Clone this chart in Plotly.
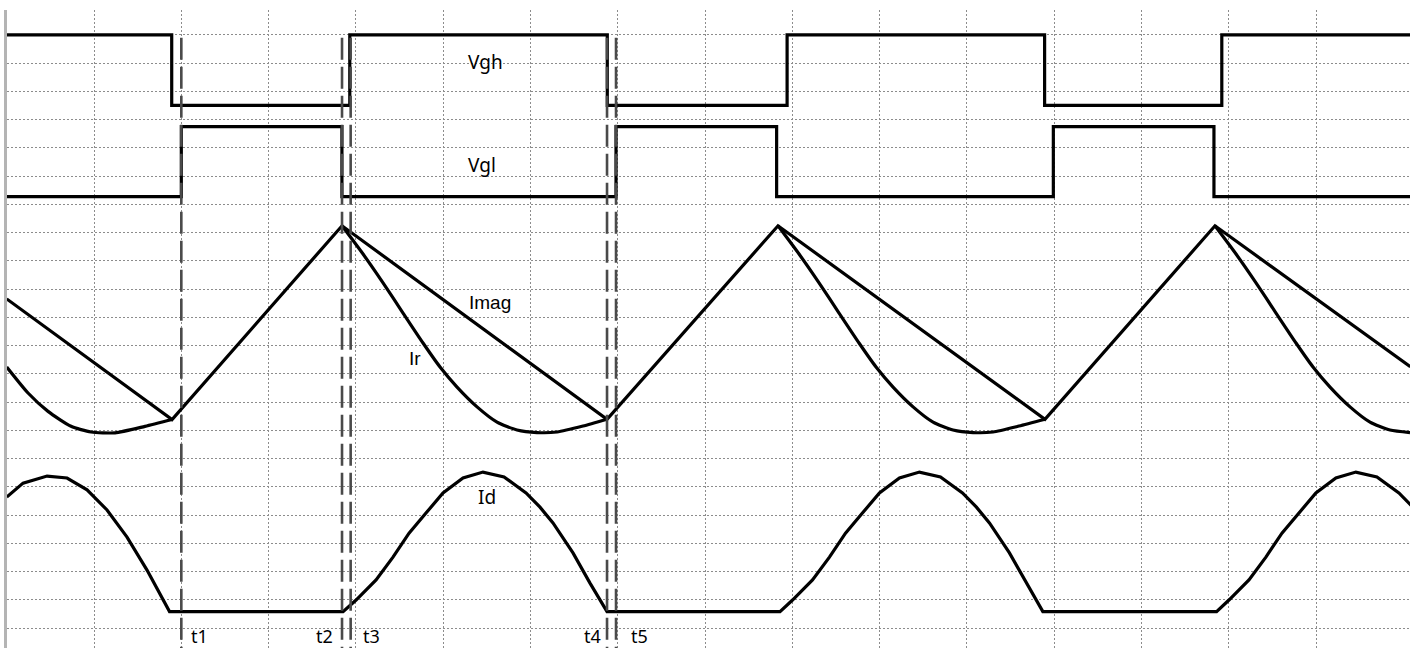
import plotly.graph_objects as go

# ---- data (time in grid divisions, amplitude in grid divisions) ----
vgh_t = [-1.0, 0.89, 2.93, 5.88, 7.94, 10.89, 12.92, 15.1]
vgh_v = [21.0, 18.5, 21.0, 18.5, 21.0, 18.5, 21.0, 21.0]

vgl_t = [-1.0, 1.0, 2.84, 5.98, 7.82, 10.99, 12.83, 15.1]
vgl_v = [15.27, 17.75, 15.27, 17.75, 15.27, 17.75, 15.27, 15.27]

imag_t = [-1.0, 0.894, 2.841, 5.877, 7.836, 10.894, 12.842, 15.08]
imag_v = [11.65, 7.38, 14.24, 7.39, 14.24, 7.39, 14.24, 9.25]

ir_t = [-1.0, -0.756, -0.527, -0.263, -0.034, 0.241, 0.584, 0.894, None,
        2.841, 3.082, 3.311, 3.540, 3.769, 3.964, 4.159, 4.388, 4.617, 4.846, 5.075, 5.304, 5.602, 5.877, None,
        7.836, 8.077, 8.306, 8.535, 8.764, 8.959, 9.154, 9.383, 9.612, 9.841, 10.070, 10.299, 10.597, 10.894, None,
        12.842, 13.083, 13.312, 13.541, 13.770, 13.965, 14.160, 14.389, 14.618, 14.847, 15.076]
ir_v = [9.24, 8.32, 7.67, 7.14, 6.94, 6.91, 7.14, 7.38, None,
        14.24, 13.24, 12.22, 11.15, 10.09, 9.24, 8.53, 7.83, 7.29, 7.01, 6.92, 6.94, 7.15, 7.39, None,
        14.24, 13.24, 12.22, 11.15, 10.09, 9.24, 8.53, 7.83, 7.29, 7.01, 6.92, 6.94, 7.15, 7.39, None,
        14.24, 13.24, 12.22, 11.15, 10.09, 9.24, 8.53, 7.83, 7.29, 7.01, 6.92]

id_t = [-1.0, -0.813, -0.538, -0.309, -0.080, 0.149, 0.378, 0.607, 0.865,
        2.853, 3.002, 3.231, 3.425, 3.609, 3.803, 3.998, 4.227, 4.456, 4.697, 4.949, 5.109, 5.258, 5.487, 5.682, 5.877,
        7.859, 8.002, 8.231, 8.425, 8.609, 8.803, 8.998, 9.227, 9.456, 9.697, 9.949, 10.109, 10.258, 10.487, 10.682, 10.870,
        12.860, 13.002, 13.231, 13.425, 13.609, 13.803, 13.998, 14.227, 14.456, 14.697, 14.949, 15.109]
id_v = [4.64, 5.13, 5.38, 5.31, 4.89, 4.18, 3.22, 2.05, 0.58,
        0.58, 0.99, 1.70, 2.51, 3.36, 4.07, 4.78, 5.31, 5.52, 5.35, 4.78, 4.28, 3.72, 2.66, 1.59, 0.58,
        0.58, 0.99, 1.70, 2.51, 3.36, 4.07, 4.78, 5.31, 5.52, 5.35, 4.78, 4.28, 3.72, 2.66, 1.59, 0.58,
        0.58, 0.99, 1.70, 2.51, 3.36, 4.07, 4.78, 5.31, 5.52, 5.35, 4.78, 4.28]

marker_names = ["t1", "t2", "t3", "t4", "t5"]
marker_times = [1.0, 2.841, 2.94, 5.877, 5.98]

signal_names = ["Vgh", "Vgl", "Imag", "Ir", "Id"]

# ---- layout constants ----
X_RANGE = [-0.997, 15.076]
Y_RANGE = [-0.708, 21.88]
LINE_W = 3.2

fig = go.Figure()

fig.add_trace(go.Scatter(x=vgh_t, y=vgh_v, mode="lines", line=dict(color="black", width=LINE_W, shape="hv")))
fig.add_trace(go.Scatter(x=vgl_t, y=vgl_v, mode="lines", line=dict(color="black", width=LINE_W, shape="hv")))
fig.add_trace(go.Scatter(x=imag_t, y=imag_v, mode="lines", line=dict(color="black", width=LINE_W)))
fig.add_trace(go.Scatter(x=ir_t, y=ir_v, mode="lines", connectgaps=False,
                         line=dict(color="black", width=LINE_W, shape="spline", smoothing=0.6)))
fig.add_trace(go.Scatter(x=id_t, y=id_v, mode="lines",
                         line=dict(color="black", width=LINE_W, shape="linear")))

# dashed time markers
for t in marker_times:
    fig.add_trace(go.Scatter(x=[t, t], y=[20.9, Y_RANGE[0]], mode="lines",
                             line=dict(color="#4a4a4a", width=2.6, dash="22px,7px")))

# signal labels
sig_pos = {"Vgh": (4.48, 20.04, "Noto Sans"), "Vgl": (4.445, 16.40, "Noto Sans"),
           "Imag": (4.537, 11.54, "Liberation Sans"), "Ir": (3.677, 9.53, "Liberation Sans"),
           "Id": (4.50, 4.64, "Noto Sans")}
for name in signal_names:
    x, y, fam = sig_pos[name]
    fig.add_annotation(x=x, y=y, text=name, showarrow=False, xanchor="center", yanchor="middle",
                       font=dict(family=fam, size=19, color="black"))

# time labels
t_label_x = [1.203, 2.646, 3.173, 5.705, 6.244]
for name, x in zip(marker_names, t_label_x):
    fig.add_annotation(x=x, y=-0.28, text=name, showarrow=False, xanchor="center", yanchor="middle",
                       font=dict(family="Noto Sans", size=18, color="black"))

fig.update_layout(
    width=1410, height=648,
    margin=dict(l=7, r=0, t=10, b=0),
    paper_bgcolor="white", plot_bgcolor="white",
    showlegend=False,
    xaxis=dict(range=X_RANGE, tickvals=list(range(0, 15)), showticklabels=False,
               showgrid=True, gridcolor="#8c8c8c", griddash="2px,2px", gridwidth=1,
               zeroline=False, showline=False, ticks=""),
    yaxis=dict(range=Y_RANGE, tickvals=list(range(0, 22)), showticklabels=False,
               showgrid=True, gridcolor="#8c8c8c", griddash="2px,2px", gridwidth=1,
               zeroline=False, showline=True, linecolor="#b4b4b4", linewidth=3, ticks=""),
)

fig.write_html("out.html", config={"displayModeBar": False},
               post_script="document.body.style.margin='0';document.body.style.overflow='hidden';")
